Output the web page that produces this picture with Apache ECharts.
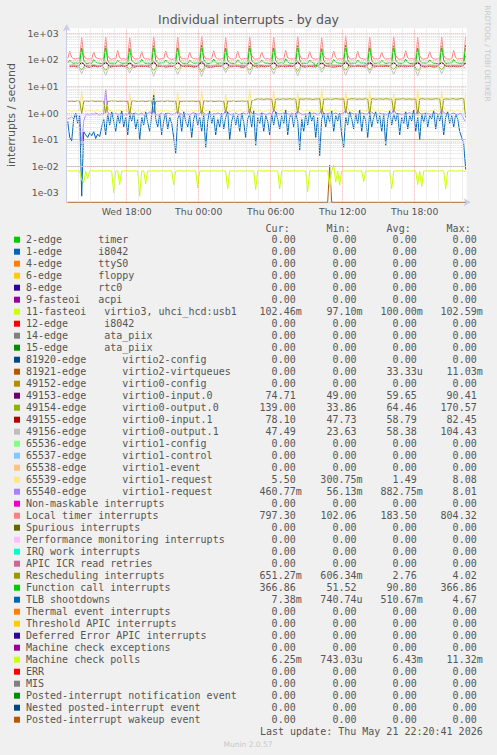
<!DOCTYPE html>
<html><head><meta charset="utf-8">
<script src="https://cdn.jsdelivr.net/npm/echarts@6/dist/echarts.min.js"></script>
<style>html,body{margin:0;padding:0;background:#F0F0F0;}#c{width:497px;height:755px;}</style>
</head><body><div id="c"></div>
<script>
// ---------- time grids (hours since Wed 00:00) ----------
const t10 = Array.from({length: 200}, (_, k) => 13 + 5 / 60 + k / 6); // 10-minute samples 13:05 .. Thu 22:15
const t20 = Array.from({length: 100}, (_, k) => 13.25 + k / 3);       // 20-minute samples 13:15 .. Thu 22:15

// ---------- tick labels ----------
const xTickHours = [18, 24, 30, 36, 42];
const xTickLabels = ['Wed 18:00', 'Thu 00:00', 'Thu 06:00', 'Thu 12:00', 'Thu 18:00'];
const yTickExp = [-3, -2, -1, 0, 1, 2, 3];
const yTickLabels = ['1e-03', '1e-02', '1e-01', '1e+00', '1e+01', '1e+02', '1e+03'];

// ---------- series values (interrupts / second) ----------
const localTimer = [
112,210,124,110,107,115, 109,700,150,113,108,111, 106,200,122,114,109,107, 111,740,145,110,106,112,
108,225,120,107,111,105, 110,680,148,114,107,109, 112,205,119,108,110,106, 107,770,156,111,106,113,
109,215,124,110,105,108, 111,730,144,107,112,109, 106,195,121,112,109,107, 110,790,152,108,111,106,
113,220,122,109,106,110, 108,700,146,112,109,107, 111,210,120,106,110,112, 107,760,150,110,107,109,
110,200,123,108,112,106, 112,720,144,109,106,111, 106,225,119,111,108,110, 109,780,154,107,112,108,
111,205,121,110,106,109, 108,690,147,112,109,107, 110,215,124,106,111,108, 112,804,152,109,107,110,
107,210,120,112,108,106, 109,740,146,108,111,109, 111,195,122,107,109,112, 106,770,150,111,106,108,
110,220,119,108,112,107, 108,710,144,110,107,111, 112,205,123,109,106,110, 107,750,148,111,108,106,
109,225,121,107,110,112, 108,797.3];

const functionCall = [
76,98,80,74,78,75, 77,290,100,75,73,78, 74,102,82,77,75,73, 78,320,95,74,76,75,
73,96,79,76,74,77, 75,270,98,78,73,76, 77,105,81,73,77,74, 74,340,102,76,75,78,
76,99,80,74,78,73, 78,300,96,77,74,75, 73,95,82,75,76,77, 75,355,104,78,73,74,
77,108,79,74,77,76, 74,280,97,76,75,73, 76,100,81,73,78,75, 73,330,99,77,74,76,
78,97,80,75,76,73, 75,295,95,74,77,78, 74,110,83,76,73,75, 77,345,101,73,76,74,
75,98,80,78,52,77, 76,265,96,75,73,76, 73,103,82,77,75,74, 78,360,103,74,76,75,
74,99,79,76,78,73, 76,310,98,75,74,77, 75,95,81,73,76,78, 73,335,100,77,75,74,
77,106,80,74,73,76, 75,285,97,76,77,75, 78,100,82,75,74,73, 74,320,99,73,76,77,
76,104,80,77,75,74, 75,366.86];

const rescheduling = [
2.8,2.75,2.85,2.7,2.8,2.9, 2.75,0.95,2.7,2.85,2.8,2.75, 2.9,2.8,2.7,2.85,2.75,2.8, 2.7,1.0,2.8,2.75,2.9,2.8,
2.85,2.7,2.8,2.75,2.85,2.7, 2.8,0.85,2.75,2.9,2.8,2.7, 2.75,2.85,2.8,2.7,2.8,2.9, 2.8,1.05,2.7,2.8,2.75,2.85,
2.7,2.8,2.9,2.75,2.8,2.7, 2.85,0.9,2.8,2.7,2.85,2.75, 2.8,2.75,2.85,2.8,2.7,2.8, 2.75,0.8,2.8,2.9,2.75,2.8,
2.85,2.7,2.75,2.8,2.85,2.7, 2.8,1.0,2.85,2.75,2.8,2.9, 2.7,2.8,2.75,2.85,2.8,2.75, 2.9,0.9,2.8,3.0,3.3,3.4,
3.3,3.4,3.25,3.35,3.4,3.3, 3.35,1.1,3.3,3.4,3.25,3.35, 3.4,3.3,3.35,3.45,3.3,3.4, 3.3,0.95,3.4,3.35,3.3,3.45,
3.35,3.4,3.3,3.25,3.4,3.35, 3.45,0.85,3.35,3.3,3.4,3.3, 3.3,3.35,3.45,3.4,3.3,3.35, 3.4,1.0,3.3,3.35,3.45,3.4,
3.35,3.3,3.4,3.3,3.35,3.45, 3.3,0.9,3.45,3.4,3.3,3.35, 3.4,3.35,3.3,3.45,3.4,3.3, 3.35,1.05,3.4,3.3,3.35,3.4,
3.45,3.3,3.35,3.4,3.3,3.35, 3.3,0.8,3.35,3.45,3.4,3.3, 3.4,3.35,3.3,3.35,3.45,3.4, 3.35,0.95,3.3,3.4,3.35,3.3,
3.4,3.45,3.3,3.35,3.4,3.5, 3.4,0.651];

const virtio1Request65539 = [
1.2,1.3,1.1,1.25,1.15,1.3, 1.2,6.5,1.6,1.1,1.25,1.2, 1.3,1.15,1.2,1.35,1.1,1.25, 1.15,7.5,1.8,1.2,1.3,1.1,
1.25,1.2,1.35,1.1,1.2,1.3, 1.1,5.5,1.5,1.3,1.15,1.25, 1.3,1.2,1.1,1.25,1.35,1.15, 1.2,8.0,1.7,1.15,1.2,1.3,
1.15,1.3,1.25,1.2,1.1,1.35, 1.3,6.0,1.5,1.25,1.15,1.2, 1.2,1.1,1.3,1.15,1.25,1.2, 1.25,7.0,1.6,1.2,1.3,1.1,
1.1,1.25,1.2,1.35,1.15,1.25, 1.3,5.0,1.5,1.1,1.2,1.3, 1.2,1.15,1.3,1.25,1.1,1.2, 1.15,7.8,1.7,1.3,1.25,1.15,
1.3,1.2,1.1,1.2,1.35,1.25, 1.2,6.8,1.6,1.15,1.2,1.3, 1.25,1.3,1.15,1.1,1.25,1.2, 1.1,5.8,1.5,1.3,1.15,1.25,
1.3,1.2,1.25,1.15,1.3,1.1, 1.2,8.08,1.8,1.25,1.2,1.3, 1.15,1.25,1.3,1.2,1.1,1.2, 1.25,6.2,1.6,1.1,1.3,1.15,
1.3,1.1,1.2,1.35,1.25,1.2, 1.2,7.2,1.7,1.3,1.15,1.25, 1.15,1.3,1.25,1.1,1.2,1.3, 1.25,5.2,1.5,1.2,1.3,1.1,
1.2,1.15,1.3,1.25,1.1,1.2, 1.3,7.6,1.6,1.15,1.2,1.25, 1.1,1.25,1.2,1.3,1.35,1.15, 1.2,6.6,1.7,1.25,1.1,1.3,
1.25,1.2,1.15,1.3,1.2,1.1, 1.3,5.5];

const virtio1Request65540 = [
0.6,0.65,0.7,0.62,0.75,0.8, 0.7,0.056,0.5,0.85,0.9,0.8, 0.95,0.85,1.0,0.9,0.8,0.95, 0.9,8.01,1.1,0.85,0.95,0.9,
1.0,0.85,0.9,1.05,0.8,0.9, 0.85,1.2,0.9,0.95,1.0,0.85, 0.9,1.0,0.8,0.85,0.95,1.1, 0.95,1.3,0.9,0.8,0.9,1.0,
0.85,0.9,1.0,0.95,0.85,0.9, 1.0,1.2,0.95,0.9,0.8,0.95, 0.9,0.85,0.95,1.05,0.9,0.85, 0.95,1.25,1.0,0.85,0.9,0.95,
0.85,0.95,0.9,1.0,0.95,0.8, 0.9,1.3,1.05,0.9,0.85,0.95, 1.0,0.9,0.85,0.95,1.0,0.9, 0.95,1.4,1.0,0.9,0.95,0.85,
0.9,1.0,0.95,0.85,0.9,1.0, 0.85,1.35,1.1,0.95,0.9,0.95, 1.0,0.9,0.95,0.85,1.0,0.9, 0.95,1.2,1.0,0.9,0.85,0.95,
0.9,1.05,0.9,1.0,0.95,0.85, 0.95,1.4,1.0,0.9,0.95,1.0, 0.85,0.95,1.0,0.9,0.85,0.95, 1.0,1.3,0.95,0.9,1.0,0.9,
0.95,0.85,0.9,1.0,0.95,0.9, 0.9,1.25,1.05,0.95,0.85,0.9, 1.0,0.9,0.95,0.85,0.9,1.0, 0.95,1.4,1.0,0.9,0.95,0.85,
0.9,1.0,0.95,1.05,0.9,0.95, 0.85,1.3,1.0,0.9,0.95,1.0, 0.95,0.9,0.85,0.95,1.0,0.9, 0.9,1.35,1.05,0.95,0.9,0.85,
0.95,1.0,0.9,0.85,0.95,0.9, 0.6,0.46];

const tlbShootdowns = [
0.5,0.12,0.09,0.6,1.0,0.4, 0.8,0.00074,0.2,0.15,0.12,0.18, 0.14,0.2,0.11,0.16,0.13,0.3, 0.6,0.15,0.9,0.35,1.1,0.5,
0.2,0.8,0.4,1.2,0.3,0.7, 0.15,0.9,0.5,1.0,0.25,0.6, 0.1,0.7,0.35,1.1,0.45,0.2, 0.8,4.67,0.6,0.3,0.9,0.15,
0.5,1.0,0.25,0.7,0.4,0.12, 0.03,0.6,0.9,0.2,1.1,0.5, 0.3,0.8,0.12,0.6,1.0,0.35, 0.7,0.2,0.9,0.05,0.5,1.2,
0.4,0.8,0.15,0.6,0.3,1.0, 0.25,0.7,1.1,0.1,0.5,0.9, 0.35,0.8,0.2,1.0,0.45,0.12, 0.6,0.9,0.3,1.2,0.06,0.7,
0.4,1.0,0.2,0.8,0.5,0.15, 0.9,0.35,1.1,0.6,0.25,0.8, 0.4,1.3,0.15,0.7,0.9,0.3, 1.0,0.5,0.04,0.6,0.2,0.9,
0.35,1.1,0.5,0.8,0.12,0.7, 0.025,0.6,1.0,0.3,0.9,0.45, 1.2,0.2,0.8,0.5,1.0,0.15, 0.05,0.7,0.35,1.1,0.6,0.25,
0.9,0.4,1.3,0.2,0.8,0.55, 0.12,1.0,0.3,0.7,1.1,0.4, 0.8,0.2,0.9,0.06,0.6,1.2, 0.35,0.9,0.5,1.0,0.15,0.7,
0.4,1.1,0.25,0.8,0.5,1.3, 0.2,0.7,0.1,0.9,0.45,1.0, 0.3,0.8,0.6,1.2,0.25,0.9, 0.5,1.0,0.15,0.7,1.1,0.4,
0.8,0.3,0.9,0.6,0.2,0.12, 0.07,0.0074];

// machine check polls, in milli-interrupts / second
const machineCheckPollsMilli = [
6.6,6.7,6.5,6.6,6.7,6.6,6.5,3.0,2.4,6.4, 3.4,6.6,6.7,6.6,6.5,6.6,6.7,6.6,6.5,6.6,
6.7,6.6,6.5,1.0,6.6,6.7,2.0,6.5,6.6,6.7, 6.6,6.5,6.6,6.7,6.6,6.5,0.743,6.6,6.7,2.2,
6.6,6.5,6.6,6.7,6.6,6.5,6.6,6.7,6.6,6.5, 6.6,6.7,6.6,2.0,6.5,6.6,6.7,6.6,6.5,6.6,
6.7,6.6,6.5,6.6,6.7,1.5,6.6,6.5,6.6,6.7, 6.6,6.5,6.6,6.7,6.6,6.5,6.6,6.7,6.6,6.5,
1.4,6.6,6.7,6.6,6.5,6.6,6.7,6.6,6.5,6.6, 6.7,6.6,6.5,6.6,1.3,6.6,6.7,6.6,6.5,6.6,
6.7,6.6,6.5,6.6,6.7,6.6,1.4,6.5,6.6,6.7, 6.6,6.5,6.6,6.7,6.6,6.5,6.6,6.7,6.6,6.5,
1.1,6.6,6.7,6.6,6.5,6.6,6.7,6.6,6.5,6.6, 6.7,1.6,6.6,11.3,2.5,6.6,1.9,6.5,6.6,6.7,
6.6,6.5,6.6,6.7,6.6,6.5,6.6,6.7,2.6,6.6, 6.5,6.6,6.7,6.6,6.5,6.6,6.7,6.6,6.5,6.6,
6.7,6.6,1.4,6.5,6.6,6.7,6.6,6.5,6.6,6.7, 6.6,6.5,6.6,6.7,6.6,2.0,6.5,1.7,6.6,6.7,
6.6,6.5,6.6,6.7,6.6,6.5,6.6,6.7,6.6,1.4, 6.5,6.6,6.7,6.6,6.5,6.6,6.7,6.6,6.5,6.25];

// 20-minute samples
const virtio0Input0 = [
58,60,57, 80,59,61, 62,58,60, 85,57,59, 60,61,58, 78,60,57, 59,62,60, 88,58,61, 61,59,57, 82,60,62,
58,57,60, 90,61,59, 60,58,61, 79,62,58, 57,60,59, 86,58,62, 61,59,57, 83,60,58, 59,62,61, 87,57,60,
58,61,59, 80,60,62, 62,58,57, 89,59,60, 60,57,61, 84,62,58, 57,60,59, 81,58,61, 61,59,60, 86,61,57,
59,60,62, 82,57,59, 60,62,58, 74.71];
const virtio0Output0 = [
62,65,60, 42,64,61, 66,60,63, 40,62,65, 61,66,59, 45,63,60, 64,61,66, 38,65,62, 60,63,61, 43,61,64,
65,59,62, 36,64,60, 62,66,61, 44,60,65, 63,62,59, 40,65,63, 61,60,64, 42,63,61, 66,59,62, 37,64,60,
60,65,63, 45,61,66, 63,62,60, 39,66,61, 62,60,64, 41,63,62, 65,61,59, 44,64,63, 61,62,66, 38,60,62,
64,63,61, 43,65,60, 62,61,64, 139];
const virtio0Input1 = [
55,57,54, 82,56,53, 58,55,57, 80,54,56, 57,58,55, 78,53,57, 56,57,54, 82.45,55,58, 54,56,57, 79,58,55,
57,54,56, 81,56,53, 55,58,57, 77,55,56, 58,53,55, 80,57,54, 56,55,58, 79,54,57, 55,57,56, 82,56,54,
57,55,58, 76,58,55, 54,56,57, 81,55,56, 58,57,54, 78,54,57, 56,58,55, 80,55,56, 55,57,58, 79,56,54,
57,54,56, 82,58,55, 56,55,57, 78.1];
const virtio0Output1 = [
62,60,64, 30,63,61, 65,61,60, 26,62,64, 60,64,62, 32,61,63, 63,60,65, 24,64,61, 61,63,60, 28,60,64,
64,62,61, 23.63,65,62, 62,61,63, 33,63,60, 60,64,62, 27,61,65, 65,60,61, 29,62,64, 61,65,60, 25,63,62,
63,61,64, 34,60,61, 62,64,63, 26,61,60, 64,62,65, 31,63,61, 60,65,62, 28,61,64, 63,60,62, 25,64,61,
61,62,63, 30,60,65, 64,63,61, 47.49];

const fasteoi11 = [0.1, 0.1];                           // at t10[0], t10[199]
const virtqueues81921 = [0, 0, 0.01103, 0, 0];          // at t10[0], t10[130], t10[131], t10[132], t10[199]

// ---------- legend table ----------
const legendLabels = [
'2-edge      timer','1-edge      i8042','4-edge      ttyS0','6-edge      floppy','8-edge      rtc0',
'9-fasteoi   acpi','11-fasteoi   virtio3, uhci_hcd:usb1','12-edge      i8042','14-edge      ata_piix','15-edge      ata_piix',
'81920-edge      virtio2-config','81921-edge      virtio2-virtqueues','49152-edge      virtio0-config','49153-edge      virtio0-input.0',
'49154-edge      virtio0-output.0','49155-edge      virtio0-input.1','49156-edge      virtio0-output.1','65536-edge      virtio1-config',
'65537-edge      virtio1-control','65538-edge      virtio1-event','65539-edge      virtio1-request','65540-edge      virtio1-request',
'Non-maskable interrupts','Local timer interrupts','Spurious interrupts','Performance monitoring interrupts','IRQ work interrupts',
'APIC ICR read retries','Rescheduling interrupts','Function call interrupts','TLB shootdowns','Thermal event interrupts',
'Threshold APIC interrupts','Deferred Error APIC interrupts','Machine check exceptions','Machine check polls','ERR','MIS',
'Posted-interrupt notification event','Nested posted-interrupt event','Posted-interrupt wakeup event'];
const legendColors = [
'#00CC00','#0066B3','#FF8000','#FFCC00','#330099','#990099','#CCFF00','#FF0000','#808080','#008F00',
'#00487D','#B35A00','#B38F00','#6B006B','#8FB300','#B30000','#BEBEBE','#80FF80','#80C9FF','#FFC080',
'#FFE680','#AA80FF','#EE00CC','#FF8080','#666600','#FFBFFF','#00FFCC','#CC6699','#999900','#00CC00',
'#0066B3','#FF8000','#FFCC00','#330099','#990099','#CCFF00','#FF0000','#808080','#008F00','#00487D','#B35A00'];
const Z = '0.00';
const curValues = [Z,Z,Z,Z,Z,Z,'102.46m',Z,Z,Z,Z,Z,Z,'74.71','139.00','78.10','47.49',Z,Z,Z,'5.50','460.77m',Z,'797.30',Z,Z,Z,Z,'651.27m','366.86','7.38m',Z,Z,Z,Z,'6.25m',Z,Z,Z,Z,Z];
const minValues = [Z,Z,Z,Z,Z,Z,'97.10m',Z,Z,Z,Z,Z,Z,'49.00','33.86','47.73','23.63',Z,Z,Z,'300.75m','56.13m',Z,'102.06',Z,Z,Z,Z,'606.34m','51.52','740.74u',Z,Z,Z,Z,'743.03u',Z,Z,Z,Z,Z];
const avgValues = [Z,Z,Z,Z,Z,Z,'100.00m',Z,Z,Z,Z,'33.33u',Z,'59.65','64.46','58.79','58.38',Z,Z,Z,'1.49','882.75m',Z,'183.50',Z,Z,Z,Z,'2.76','90.80','510.67m',Z,Z,Z,Z,'6.43m',Z,Z,Z,Z,Z];
const maxValues = [Z,Z,Z,Z,Z,Z,'102.59m',Z,Z,Z,Z,'11.03m',Z,'90.41','170.57','82.45','104.43',Z,Z,Z,'8.08','8.01',Z,'804.32',Z,Z,Z,Z,'4.02','366.86','4.67',Z,Z,Z,Z,'11.32m',Z,Z,Z,Z,Z];
const headers = ['Cur:', 'Min:', 'Avg:', 'Max:'];

// ---------- layout ----------
const Y_MIN = Math.pow(10, -3.361), Y_MAX = Math.pow(10, 3.188);
const X_MIN = 13, X_MAX = 46 + 1 / 3;
const GRID = {left: 66.7, top: 28.3, width: 400, height: 174};
const MONO = '"DejaVu Sans Mono", monospace';
const SANS = '"DejaVu Sans", sans-serif';
const CH = 6.02;
const TXT = '#555555';

function pairs(times, vals) { return vals.map((v, i) => [times[i], v]); }
function line(name, color, data) {
  return {name, type: 'line', data, showSymbol: false, symbol: 'none', animation: false, clip: true,
    lineStyle: {width: 1, color}, itemStyle: {color}, emphasis: {disabled: true}, z: 3};
}
const C = legendColors;

const majorH = {color: 'rgba(240,120,120,0.6)', width: 1, type: [1, 1]};
const minorH = {color: '#DCDCDC', width: 1, type: [1, 1]};
const gridLines = [];
for (let e = -4; e <= 3; e++) for (let m = 1; m <= 9; m++) {
  const v = m * Math.pow(10, e);
  if (v > Y_MIN && v < Y_MAX) gridLines.push({yAxis: v, lineStyle: m === 1 ? majorH : minorH});
}
for (let h = 14; h <= 46; h++) {
  gridLines.push({xAxis: h, lineStyle: (h % 6 === 0) ? majorH : minorH});
}

const series = [
  {type: 'line', data: [], silent: true, z: 1,
    markLine: {silent: true, symbol: ['none', 'none'], label: {show: false}, animation: false, data: gridLines}},
  line('11-fasteoi', C[6], pairs([t10[0], t10[199]], fasteoi11)),
  line('81921-edge', C[11], pairs([t10[0], t10[130], t10[131], t10[132], t10[199]], virtqueues81921.map(v => v > 0 ? v : Y_MIN))),
  line('49153-edge', C[13], pairs(t20, virtio0Input0)),
  line('49154-edge', C[14], pairs(t20, virtio0Output0)),
  line('49155-edge', C[15], pairs(t20, virtio0Input1)),
  line('49156-edge', C[16], pairs(t20, virtio0Output1)),
  line('65539-edge', C[20], pairs(t10, virtio1Request65539)),
  line('65540-edge', C[21], pairs(t10, virtio1Request65540)),
  line('Local timer interrupts', C[23], pairs(t10, localTimer)),
  line('Rescheduling interrupts', C[28], pairs(t10, rescheduling)),
  line('Function call interrupts', C[29], pairs(t10, functionCall)),
  line('TLB shootdowns', C[30], pairs(t10, tlbShootdowns)),
  line('Machine check polls', C[35], pairs(t10, machineCheckPollsMilli.map(v => v / 1000)))
];

// ---------- text graphics ----------
function txt(x, y, text, font, fill, align, vAlign, rotation) {
  return {type: 'text', x, y, rotation: rotation || 0, silent: true,
    style: {text, font, fill, align, textAlign: align, verticalAlign: vAlign || 'middle', textVerticalAlign: vAlign || 'middle'}};
}
const graphics = [];
graphics.push(txt(248.5, 19, 'Individual interrupts - by day', '12.5px ' + SANS, TXT, 'center'));
graphics.push(txt(11, 115, 'interrupts / second', '11px ' + SANS, TXT, 'center', 'middle', Math.PI / 2));
graphics.push(txt(487, 53.5, 'RRDTOOL / TOBI OETIKER', '7.5px ' + SANS, '#C8C8C8', 'center', 'middle', -Math.PI / 2));
const colEnds = [295.7, 356.5, 416.7, 476.7];
headers.forEach((h, c) => graphics.push(txt(colEnds[c] - CH, 228.3, h, '10px ' + MONO, TXT, 'right')));
const valueCols = [curValues, minValues, avgValues, maxValues];
legendLabels.forEach((lab, i) => {
  const y = 239.7 + 12 * i;
  graphics.push({type: 'rect', silent: true, shape: {x: 14, y: y - 3, width: 6, height: 6}, style: {fill: legendColors[i]}});
  const m = lab.match(/^(\S+)(\s{2,})(.*)$/);
  if (m) {
    graphics.push(txt(26, y, m[1], '10px ' + MONO, TXT, 'left'));
    graphics.push(txt(26 + (m[1].length + m[2].length) * CH, y, m[3], '10px ' + MONO, TXT, 'left'));
  } else {
    graphics.push(txt(26, y, lab, '10px ' + MONO, TXT, 'left'));
  }
  valueCols.forEach((col, c) => {
    const s = col[i];
    const end = colEnds[c] + (/[a-z]$/i.test(s) ? CH : 0);
    graphics.push(txt(end, y, s, '10px ' + MONO, TXT, 'right'));
  });
});
graphics.push(txt(482.7, 731, 'Last update: Thu May 21 22:20:41 2026', '10px ' + MONO, TXT, 'right'));
graphics.push(txt(248, 744, 'Munin 2.0.57', '7.5px ' + SANS, '#C8C8C8', 'center'));

const chart = echarts.init(document.getElementById('c'), null, {renderer: 'svg'});
chart.setOption({
  backgroundColor: '#F0F0F0',
  animation: false,
  grid: {left: GRID.left, top: GRID.top, width: GRID.width, height: GRID.height, show: true, backgroundColor: '#FFFFFF', borderWidth: 0},
  xAxis: {
    type: 'value', min: X_MIN, max: X_MAX, interval: 1,
    axisLine: {show: true, lineStyle: {color: '#C8CDE8', width: 1}, symbol: ['none', 'arrow'], symbolSize: [6, 7], symbolOffset: [0, 4]},
    axisTick: {show: false},
    splitLine: {show: false},
    axisLabel: {
      margin: 5, color: TXT, fontSize: 9.3, fontFamily: SANS,
      formatter: v => { const i = xTickHours.findIndex(h => Math.abs(h - v) < 1e-6); return i >= 0 ? xTickLabels[i] : ''; }
    }
  },
  yAxis: {
    type: 'log', logBase: 10, min: Y_MIN, max: Y_MAX,
    axisLine: {show: true, lineStyle: {color: '#C8CDE8', width: 1}, symbol: ['none', 'arrow'], symbolSize: [6, 7], symbolOffset: [0, 4]},
    axisTick: {show: false},
    splitLine: {show: false},
    minorSplitLine: {show: false},
    axisLabel: {
      margin: 8, color: TXT, fontSize: 9.3, fontFamily: SANS,
      formatter: v => { const l = Math.log10(v); const e = Math.round(l); if (Math.abs(l - e) > 1e-6) return ''; const i = yTickExp.indexOf(e); return i >= 0 ? yTickLabels[i] : ''; }
    }
  },
  series,
  graphic: {elements: graphics}
});
</script></body></html>
